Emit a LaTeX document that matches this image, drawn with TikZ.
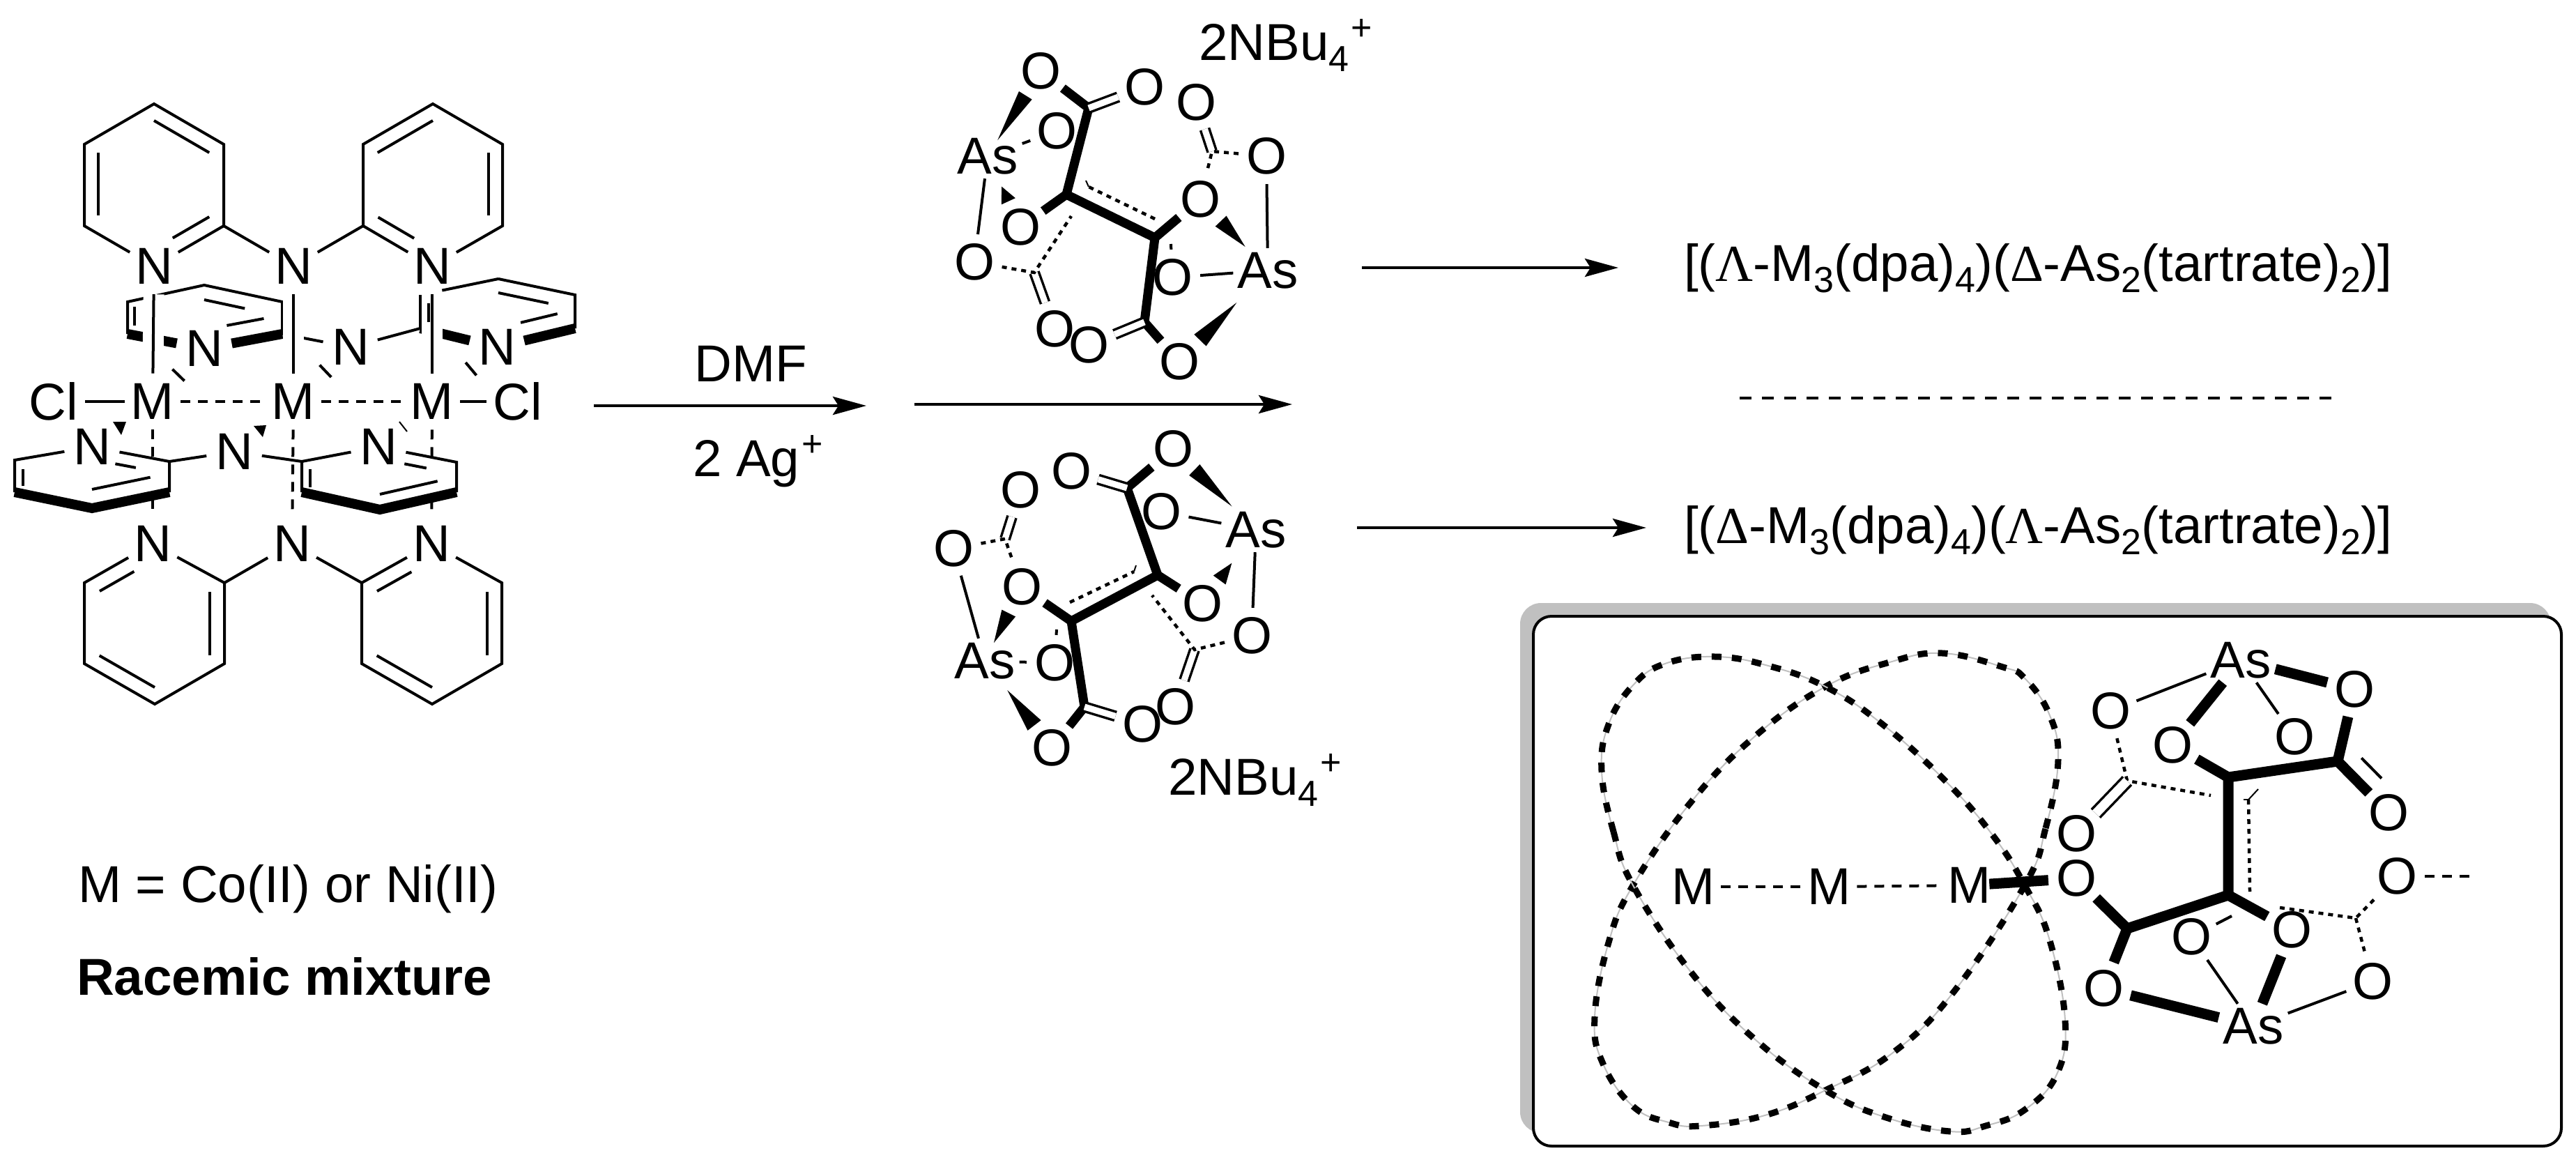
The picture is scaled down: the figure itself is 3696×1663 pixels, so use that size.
\documentclass[tikz,border=0pt]{standalone}
\usepackage{fontspec}
\setmainfont{Liberation Sans}
\newfontfamily\grk{Liberation Serif}
\usetikzlibrary{arrows.meta,calc}
\definecolor{boxshadow}{RGB}{192,192,192}

\newcommand{\subnum}[1]{\raisebox{-16pt}{\fontsize{52}{52}\selectfont #1}}
\newcommand{\supnum}[1]{\kern3pt\raisebox{29pt}{\fontsize{52}{52}\selectfont #1}}
\newcommand{\wedgebond}[5]{\fill ($(#1)!#3pt!(#2)$) -- ($($(#2)!#4pt!(#1)$)!#5pt!90:(#1)$) -- ($($(#2)!#4pt!(#1)$)!#5pt!-90:(#1)$) -- cycle;}
\newcommand{\innerbond}[5]{\draw[thinbond,shorten <=#4pt,shorten >=#5pt] ([shift={(#3)}]#1.center) -- ([shift={(#3)}]#2.center);}
\newcommand{\hashmark}[3]{\draw[thinbond] ($($(#1)!#3!(#2)$)!12pt!90:(#2)$) -- ($($(#1)!#3!(#2)$)!12pt!-90:(#2)$);}

\begin{document}
\begin{tikzpicture}[x=1pt,y=-1pt,>={Stealth[length=48pt,width=26pt,inset=8pt]},
                      font=\fontsize{74.5}{74.5}\selectfont]
    \tikzstyle{atom}=[circle,inner sep=0pt,minimum size=80pt]
    \tikzstyle{arsenic}=[rectangle,inner sep=6pt]
    \tikzstyle{chlorine}=[rectangle,inner sep=10pt]
    \tikzstyle{caption}=[anchor=base west,inner sep=0pt]
    \tikzstyle{thinbond}=[line width=4pt]
    \tikzstyle{heavybond}=[line width=13pt]
    \tikzstyle{ringedge}=[line width=14pt]
    \tikzstyle{boxbond}=[line width=15pt]
    \tikzstyle{metalbond}=[line width=4pt,dash pattern=on 14pt off 11pt]
    \tikzstyle{rearbond}=[line width=4.5pt,dash pattern=on 7pt off 7pt]
    \tikzstyle{dblbond}=[double,double distance=9pt,line width=3.5pt]
    \tikzstyle{halo}=[white,line width=30pt]
    \tikzstyle{rxn}=[->,line width=4.5pt]
    \tikzstyle{loopline}=[line width=9pt,dash pattern=on 14pt off 15pt,preaction={draw=boxshadow,line width=2pt,solid}]

    \useasboundingbox (0,0) rectangle (3696,1663);

    \node[atom] (n1) at (221,382) {N};
    \node[atom] (n2) at (421,382) {N};
    \node[atom] (n3) at (620,382) {N};
    \node[atom] (m1) at (219,576) {M};
    \node[atom] (m2) at (421,576) {M};
    \node[atom] (m3) at (620,576) {M};
    \node[chlorine] (cl1) at (77,576) {Cl};
    \node[chlorine] (cl2) at (743,576) {Cl};
    \node[atom] (rn1) at (293,500) {N};
    \node[atom] (rn2) at (503,498) {N};
    \node[atom] (rn3) at (713,498) {N};
    \node[atom] (bn1) at (219,780) {N};
    \node[atom] (bn2) at (419,780) {N};
    \node[atom] (bn3) at (619,780) {N};

    \coordinate (ra) at (221,149);
    \coordinate (rb) at (321,207);
    \coordinate (rc) at (321,324);
    \coordinate (rd) at (121,324);
    \coordinate (re) at (121,207);
    \coordinate (sa) at (621,149);
    \coordinate (sb) at (721,207);
    \coordinate (sc) at (721,324);
    \coordinate (sd) at (521,324);
    \coordinate (se) at (521,207);
    \draw[thinbond] (n1) -- (rd) -- (re) -- (ra) -- (rb) -- (rc) -- (n1);
    \draw[thinbond] (n3) -- (sc) -- (sb) -- (sa) -- (se) -- (sd) -- (n3);
    \draw[thinbond] (rc) -- (n2) -- (sd);
    \innerbond{ra}{rb}{0,24}{0}{24}
    \innerbond{re}{rd}{20,0}{12}{15}
    \innerbond{rc}{n1}{0,-25}{24}{31}
    \innerbond{se}{sa}{0,24}{24}{0}
    \innerbond{sb}{sc}{-20,0}{12}{15}
    \innerbond{sd}{n3}{0,-25}{25}{30}

    \coordinate (ta) at (293,409);
    \coordinate (tb) at (405,433);
    \coordinate (tc) at (405,479);
    \coordinate (td) at (183,479);
    \coordinate (te) at (183,433);
    \coordinate (ua) at (715,400);
    \coordinate (ub) at (825,423);
    \coordinate (uc) at (825,471);
    \coordinate (ud) at (603,471);
    \coordinate (ue) at (603,423);
    \draw[thinbond] (td) -- (te) -- (ta) -- (tb) -- (tc);
    \draw[ringedge] (td) -- (rn1);
    \draw[ringedge] (tc) -- (rn1);
    \draw[thinbond] (tc) -- (rn2) -- (ud) -- (ue);
    \draw[thinbond,shorten <=32pt] (ue) -- (ua);
    \draw[thinbond] (ua) -- (ub) -- (uc);
    \draw[ringedge] (ud) -- (rn3);
    \draw[ringedge] (uc) -- (rn3);
    \draw[halo] (n1) -- (m1);
    \draw[halo] (n2) -- (m2);
    \draw[halo] (n3) -- (m3);
    \draw[thinbond] (n1) -- (m1);
    \draw[thinbond] (n2) -- (m2);
    \draw[thinbond] (n3) -- (m3);
    \innerbond{te}{td}{10,0}{7}{12}
    \innerbond{ta}{tb}{0,21}{0}{55}
    \innerbond{rn1}{tc}{0,-27}{33}{27}
    \innerbond{ue}{ud}{12,0}{12}{9}
    \innerbond{ua}{ub}{0,20}{0}{39}
    \innerbond{rn3}{uc}{0,-27}{35}{26}

    \draw[thinbond] (cl1) -- (m1);
    \draw[thinbond] (m3) -- (cl2);
    \draw[metalbond] (m1) -- (m2);
    \draw[metalbond] (m2) -- (m3);
    \draw[metalbond] (m1) -- (bn1);
    \draw[metalbond] (m2) -- (bn2);
    \draw[metalbond] (m3) -- (bn3);
    \hashmark{m1}{rn1}{.5}
    \hashmark{m2}{rn2}{.56}
    \hashmark{m3}{rn3}{.6}

    \coordinate (ln1c) at (132,641);
    \coordinate (ln3c) at (543,641);
    \coordinate (va) at (243,662);
    \coordinate (vb) at (243,706);
    \coordinate (vc) at (132,729);
    \coordinate (vd) at (21,706);
    \coordinate (ve) at (21,660);
    \coordinate (wa) at (655,663);
    \coordinate (wb) at (655,706);
    \coordinate (wc) at (545,731);
    \coordinate (wd) at (433,706);
    \coordinate (we) at (433,662);
    \fill[white] (ln1c) -- (va) -- (vb) -- (vc) -- (vd) -- (ve) -- cycle;
    \fill[white] (ln3c) -- (wa) -- (wb) -- (wc) -- (wd) -- (we) -- cycle;
    \node[atom] (ln1) at (ln1c) {N};
    \node[atom] (ln2) at (336,648) {N};
    \node[atom] (ln3) at (ln3c) {N};
    \draw[thinbond] (ln1) -- (va) -- (vb);
    \draw[thinbond] (ln1) -- (ve) -- (vd);
    \draw[ringedge] (vd) -- (vc) -- (vb);
    \draw[thinbond] (va) -- (ln2) -- (we);
    \draw[thinbond] (ln3) -- (wa) -- (wb);
    \draw[thinbond] (ln3) -- (we) -- (wd);
    \draw[ringedge] (wd) -- (wc) -- (wb);
    \innerbond{ve}{vd}{12,0}{13}{9}
    \innerbond{vc}{vb}{0,-27}{0}{28}
    \innerbond{ln1}{va}{0,18}{34}{49}
    \innerbond{we}{wd}{12,0}{11}{7}
    \innerbond{wc}{wb}{0,-22}{0}{28}
    \innerbond{ln3}{wa}{0,17}{38}{44}
    \fill (162,605) -- (181,605) -- (174,624) -- cycle;
    \fill (364,611) -- (382,610) -- (377,627) -- cycle;
    \draw[line width=2pt] (573,605) -- (584,619);

    \coordinate (xa) at (322,836);
    \coordinate (xb) at (322,952);
    \coordinate (xc) at (222,1010);
    \coordinate (xd) at (121,952);
    \coordinate (xe) at (121,836);
    \coordinate (ya) at (519,836);
    \coordinate (yb) at (519,952);
    \coordinate (yc) at (620,1010);
    \coordinate (yd) at (720,952);
    \coordinate (ye) at (720,836);
    \draw[thinbond] (bn1) -- (xa) -- (xb) -- (xc) -- (xd) -- (xe) -- (bn1);
    \draw[thinbond] (bn3) -- (ye) -- (yd) -- (yc) -- (yb) -- (ya) -- (bn3);
    \draw[thinbond] (xa) -- (bn2) -- (ya);
    \innerbond{xe}{bn1}{22,12}{0}{56}
    \innerbond{xa}{xb}{-21,0}{13}{12}
    \innerbond{xd}{xc}{0,-24}{25}{0}
    \innerbond{ya}{bn3}{22,12}{0}{58}
    \innerbond{ye}{yd}{-21,0}{13}{12}
    \innerbond{yb}{yc}{0,-24}{25}{0}

    \node[caption] (legend1) at (112,1294) {M = Co(II) or Ni(II)};
    \node[caption] (legend2) at (110,1427) {\bfseries Racemic mixture};

    \coordinate (arr1a) at (852,582);
    \coordinate (arr1b) at (1243,582);
    \coordinate (arr2a) at (1312,580);
    \coordinate (arr2b) at (1854,580);
    \coordinate (arr3a) at (1954,384);
    \coordinate (arr3b) at (2322,384);
    \coordinate (arr4a) at (1947,757);
    \coordinate (arr4b) at (2362,757);
    \coordinate (sepa) at (2496,571);
    \coordinate (sepb) at (3355,571);
    \draw[rxn] (arr1a) -- (arr1b);
    \draw[rxn] (arr2a) -- (arr2b);
    \draw[rxn] (arr3a) -- (arr3b);
    \draw[rxn] (arr4a) -- (arr4b);
    \draw[line width=4pt,dash pattern=on 17pt off 15pt] (sepa) -- (sepb);

    \node[caption] (dmf) at (996,547) {DMF};
    \node[caption] (silver) at (994,683) {2 Ag\supnum{+}};
    \node[caption] (cation1) at (1720,86) {2NBu\subnum{4}\supnum{+}};
    \node[caption] (cation2) at (1676,1140) {2NBu\subnum{4}\supnum{+}};
    \node[caption] (prod1) at (2416,403) {[({\grk Λ}-M\subnum{3}(dpa)\subnum{4})({\grk Δ}-As\subnum{2}(tartrate)\subnum{2})]};
    \node[caption] (prod2) at (2416,779) {[({\grk Δ}-M\subnum{3}(dpa)\subnum{4})({\grk Λ}-As\subnum{2}(tartrate)\subnum{2})]};

    \node[atom] (uo1) at (1493,102) {O};
    \node[atom] (uo2) at (1642,125) {O};
    \node[arsenic] (uas1) at (1417,224) {As};
    \node[atom] (uo3) at (1516,188) {O};
    \node[atom] (uo4) at (1464,326) {O};
    \node[atom] (uo5) at (1398,376) {O};
    \node[atom] (uo6) at (1513,472) {O};
    \node[atom] (uo7) at (1716,147) {O};
    \node[atom] (uo8) at (1817,224) {O};
    \node[atom] (uo9) at (1722,286) {O};
    \node[arsenic] (uas2) at (1819,388) {As};
    \node[atom] (uo10) at (1682,398) {O};
    \node[atom] (uo11) at (1562,495) {O};
    \node[atom] (uo12) at (1692,519) {O};
    \coordinate (uc1) at (1562,155);
    \coordinate (uc2) at (1530,279);
    \coordinate (uc3) at (1657,341);
    \coordinate (uc4) at (1642,462);
    \coordinate (uc5) at (1484,391);
    \coordinate (uc6) at (1739,217);
    \coordinate (ur1) at (1537,310);
    \coordinate (ur2) at (1657,314);
    \coordinate (ur3) at (1562,268);
    \coordinate (ur4) at (1680,350);

    \draw[heavybond] (uo1) -- (uc1) -- (uc2) -- (uc3) -- (uc4) -- (uo12);
    \draw[heavybond] (uc2) -- (uo4);
    \draw[heavybond] (uc3) -- (uo9);
    \draw[dblbond] (uc1) -- (uo2);
    \draw[dblbond] (uc4) -- (uo11);
    \draw[dblbond] (uc5) -- (uo6);
    \draw[dblbond] (uc6) -- (uo7);
    \draw[thinbond] (uas1) -- (uo3);
    \draw[thinbond] (uas1) -- (uo5);
    \draw[thinbond] (uo8) -- (uas2);
    \draw[thinbond] (uo10) -- (uas2);
    \draw[rearbond] (uo5) -- (uc5) -- (ur1);
    \draw[rearbond] (uo8) -- (uc6) -- (uo9);
    \draw[rearbond] (ur2) -- (ur3);
    \draw[thinbond] (ur4) -- (uo10);
    \draw[line width=2pt] (ur3) -- ++(-4,-9);
    \wedgebond{uas1}{uo1}{27}{41}{11}
    \wedgebond{uas1}{uo4}{48}{41}{11}
    \wedgebond{uas2}{uo9}{47}{43}{11}
    \wedgebond{uas2}{uo12}{64}{43}{12}

    \node[atom] (do1) at (1683,644) {O};
    \node[atom] (do2) at (1537,676) {O};
    \node[arsenic] (das1) at (1802,760) {As};
    \node[atom] (do3) at (1666,734) {O};
    \node[atom] (do4) at (1725,866) {O};
    \node[atom] (do5) at (1796,912) {O};
    \node[atom] (do6) at (1686,1014) {O};
    \node[atom] (do7) at (1466,842) {O};
    \node[atom] (do8) at (1368,787) {O};
    \node[atom] (do9) at (1464,703) {O};
    \node[arsenic] (das2) at (1413,948) {As};
    \node[atom] (do10) at (1513,951) {O};
    \node[atom] (do11) at (1639,1039) {O};
    \node[atom] (do12) at (1509,1073) {O};
    \coordinate (dc1) at (1617,700);
    \coordinate (dc2) at (1661,825);
    \coordinate (dc3) at (1537,891);
    \coordinate (dc4) at (1556,1014);
    \coordinate (dc5) at (1714,932);
    \coordinate (dc6) at (1442,773);
    \coordinate (dr1) at (1653,854);
    \coordinate (dr2) at (1535,864);
    \coordinate (dr3) at (1627,820);
    \coordinate (dr4) at (1516,903);

    \draw[heavybond] (do1) -- (dc1) -- (dc2) -- (dc3) -- (dc4) -- (do12);
    \draw[heavybond] (dc2) -- (do4);
    \draw[heavybond] (dc3) -- (do7);
    \draw[dblbond] (dc1) -- (do2);
    \draw[dblbond] (dc4) -- (do11);
    \draw[dblbond] (dc5) -- (do6);
    \draw[dblbond] (dc6) -- (do9);
    \draw[thinbond] (do3) -- (das1);
    \draw[thinbond] (das1) -- (do5);
    \draw[thinbond] (do8) -- (das2);
    \draw[thinbond] (das2) -- (do10);
    \draw[rearbond] (do5) -- (dc5) -- (dr1);
    \draw[rearbond] (do8) -- (dc6) -- (do7);
    \draw[rearbond] (dr2) -- (dr3);
    \draw[thinbond] (dr4) -- (do10);
    \draw[line width=2pt] (dr3) -- ++(3,-9);
    \wedgebond{das1}{do1}{48}{43}{11}
    \wedgebond{das1}{do4}{59}{42}{11}
    \wedgebond{das2}{do7}{29}{42}{11}
    \wedgebond{das2}{do12}{53}{41}{12}

    \fill[boxshadow,rounded corners=30pt] (2181,865) rectangle (3660,1625);
    \draw[fill=white,line width=4pt,rounded corners=26pt] (2200,884) rectangle (3675,1644);

    \draw[loopline] plot[smooth cycle,tension=.7] coordinates {(2905,1270) (2935,1188) (2953,1090) (2940,1024) (2905,973) (2874,957) (2787,937) (2711,950) (2619,985) (2517,1057) (2425,1152) (2343,1270) (2308,1352) (2288,1459) (2300,1526) (2343,1587) (2394,1610) (2440,1615) (2532,1600) (2619,1564) (2716,1510) (2803,1423)};
    \draw[loopline] plot[smooth cycle,tension=.7] coordinates {(2343,1270) (2315,1193) (2298,1106) (2308,1039) (2343,983) (2389,952) (2461,942) (2537,955) (2619,985) (2701,1039) (2792,1121) (2859,1198) (2905,1270) (2940,1346) (2963,1464) (2951,1541) (2905,1592) (2849,1615) (2798,1623) (2706,1603) (2619,1564) (2517,1490) (2425,1393)};

    \node[atom] (xm1) at (2429,1272) {M};
    \node[atom] (xm2) at (2624,1272) {M};
    \node[atom] (xm3) at (2825,1270) {M};
    \node[arsenic] (xas1) at (3215,947) {As};
    \node[atom] (xo1) at (3028,1020) {O};
    \node[atom] (xo2) at (3117,1069) {O};
    \node[atom] (xo3) at (3292,1057) {O};
    \node[atom] (xo4) at (3378,989) {O};
    \node[atom] (xo5) at (3427,1166) {O};
    \node[atom] (xo6) at (2979,1196) {O};
    \node[atom] (xo7) at (2979,1260) {O};
    \node[atom] (xo8) at (3018,1418) {O};
    \node[atom] (xo9) at (3144,1344) {O};
    \node[atom] (xo10) at (3288,1334) {O};
    \node[atom] (xo11) at (3404,1408) {O};
    \node[atom] (xo12) at (3439,1257) {O};
    \node[arsenic] (xas2) at (3233,1472) {As};
    \coordinate (xc1) at (3354,1092);
    \coordinate (xc2) at (3197,1115);
    \coordinate (xc3) at (3197,1284);
    \coordinate (xc4) at (3052,1120);
    \coordinate (xc5) at (3052,1332);
    \coordinate (xc6) at (3380,1317);
    \coordinate (xr1) at (3172,1141);
    \coordinate (xr2) at (3226,1147);
    \coordinate (xr3) at (3228,1279);
    \coordinate (xr4) at (3271,1302);
    \coordinate (xr5) at (3202,1314);
    \coordinate (xend) at (3547,1257);

    \draw[metalbond] (xm1) -- (xm2);
    \draw[metalbond] (xm2) -- (xm3);
    \draw[boxbond,shorten <=-11pt] (xm3) -- (xo7);
    \draw[thinbond] (xo1) -- (xas1);
    \draw[boxbond] (xas1) -- (xo2);
    \draw[thinbond] (xas1) -- (xo3);
    \draw[boxbond] (xas1) -- (xo4);
    \draw[boxbond] (xo4) -- (xc1) -- (xc2) -- (xc3) -- (xc5) -- (xo7);
    \draw[boxbond] (xc1) -- (xo5);
    \innerbond{xc1}{xo5}{23,-16}{16}{47}
    \draw[boxbond] (xc2) -- (xo2);
    \draw[boxbond] (xc5) -- (xo8);
    \draw[boxbond] (xo8) -- (xas2);
    \draw[boxbond] (xc3) -- (xo10);
    \draw[boxbond] (xo10) -- (xas2);
    \draw[thinbond] (xo9) -- (xas2);
    \draw[thinbond] (xr5) -- (xo9);
    \draw[thinbond] (xo11) -- (xas2);
    \draw[rearbond] (xo1) -- (xc4) -- (xr1);
    \draw[dblbond,double distance=13pt] (xc4) -- (xo6);
    \draw[rearbond] (xr2) -- (xr3);
    \draw[line width=2pt] (xr2) -- ++(14,-15);
    \draw[line width=2pt] (xr2) -- ++(-7,0);
    \draw[rearbond] (xr4) -- (xc6) -- (xo12);
    \draw[rearbond] (xc6) -- (xo11);
    \draw[metalbond] (xo12) -- (xend);
\end{tikzpicture}
\end{document}
